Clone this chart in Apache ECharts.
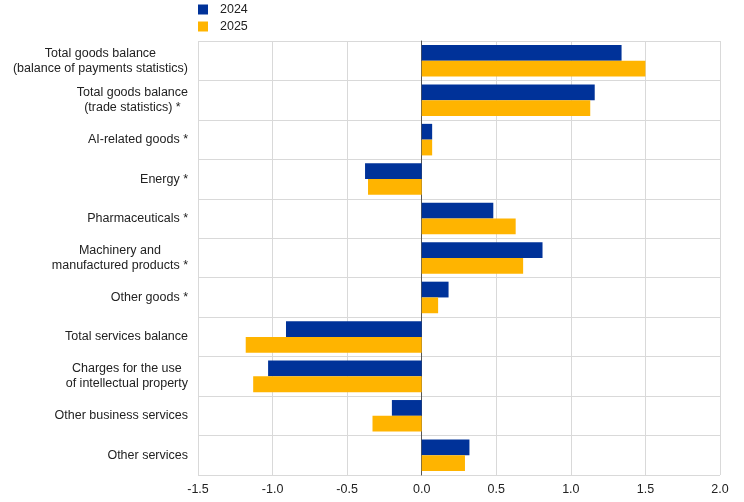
<!DOCTYPE html>
<html>
<head>
<meta charset="utf-8">
<script src="https://cdn.jsdelivr.net/npm/echarts@6/dist/echarts.min.js"></script>
<style>
  html, body { margin: 0; padding: 0; background: #fff; }
  #chart { width: 744px; height: 502px; }
</style>
</head>
<body>
<div id="chart"></div>
<script>
var categories = [
    'Total goods balance\n(balance of payments statistics)',
    'Total goods balance\n(trade statistics) *',
    'AI-related goods *',
    'Energy *',
    'Pharmaceuticals *',
    'Machinery and\nmanufactured products *',
    'Other goods *',
    'Total services balance',
    'Charges for the use\nof intellectual property',
    'Other business services',
    'Other services'
];
var values2024 = [1.34, 1.16, 0.07, -0.38, 0.48, 0.81, 0.18, -0.91, -1.03, -0.20, 0.32];
var values2025 = [1.50, 1.13, 0.07, -0.36, 0.63, 0.68, 0.11, -1.18, -1.13, -0.33, 0.29];
var xTicks = [-1.5, -1.0, -0.5, 0.0, 0.5, 1.0, 1.5, 2.0];

var chart = echarts.init(document.getElementById('chart'));

var option = {
    animation: false,
    textStyle: { fontFamily: 'Liberation Sans, Arial, sans-serif' },
    legend: {
        orient: 'vertical',
        left: 198,
        top: 3,
        padding: 0,
        itemWidth: 10,
        itemHeight: 10,
        itemGap: 4,
        icon: 'rect',
        textStyle: { fontSize: 12.5, color: '#222', lineHeight: 12, padding: [0, 0, 0, 7] },
        data: ['2024', '2025']
    },
    grid: {
        left: 198,
        right: 24,
        top: 41,
        bottom: 27
    },
    xAxis: {
        type: 'value',
        min: xTicks[0],
        max: xTicks[xTicks.length - 1],
        interval: 0.5,
        axisLine: { show: false },
        axisTick: { show: false },
        axisLabel: {
            fontSize: 12.5,
            color: '#222',
            margin: 8,
            formatter: function (v) { return v.toFixed(1); }
        },
        splitLine: { show: true, lineStyle: { color: '#d9d9d9', width: 1 } }
    },
    yAxis: {
        type: 'category',
        inverse: true,
        data: categories,
        axisLine: { show: true, onZero: true, lineStyle: { color: '#555', width: 1 } },
        axisTick: { show: false },
        splitLine: { show: true, lineStyle: { color: '#d9d9d9', width: 1 } },
        axisLabel: {
            fontSize: 12.5,
            color: '#222',
            margin: 10,
            align: 'right',
            formatter: function (v) {
                return v.split('\n').map(function (s) { return '{c|' + s + '}'; }).join('\n');
            },
            rich: {
                c: { align: 'center', fontSize: 12.5, color: '#222', lineHeight: 15 }
            }
        }
    },
    series: [
        {
            name: '2024',
            type: 'bar',
            data: values2024,
            barGap: '0%',
            barCategoryGap: '20%',
            itemStyle: { color: '#003299' }
        },
        {
            name: '2025',
            type: 'bar',
            data: values2025,
            barGap: '0%',
            barCategoryGap: '20%',
            itemStyle: { color: '#ffb400' }
        }
    ]
};

chart.setOption(option);
</script>
</body>
</html>
